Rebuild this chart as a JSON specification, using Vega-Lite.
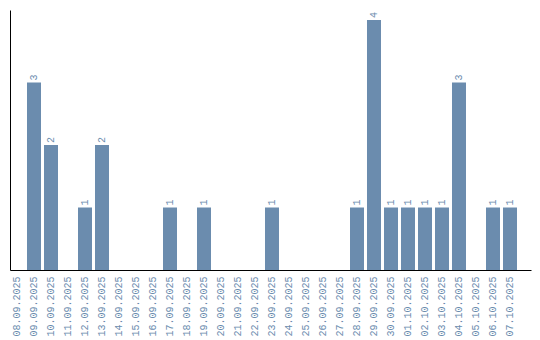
{
  "$schema": "https://vega.github.io/schema/vega-lite/v6.json",
  "autosize": "none",
  "width": 521,
  "height": 260,
  "padding": {"left": 10, "top": 10, "right": 9, "bottom": 70},
  "background": "white",
  "config": {"view": {"stroke": null}},
  "data": {"values": [
    {"date": "08.09.2025", "count": 0},
    {"date": "09.09.2025", "count": 3},
    {"date": "10.09.2025", "count": 2},
    {"date": "11.09.2025", "count": 0},
    {"date": "12.09.2025", "count": 1},
    {"date": "13.09.2025", "count": 2},
    {"date": "14.09.2025", "count": 0},
    {"date": "15.09.2025", "count": 0},
    {"date": "16.09.2025", "count": 0},
    {"date": "17.09.2025", "count": 1},
    {"date": "18.09.2025", "count": 0},
    {"date": "19.09.2025", "count": 1},
    {"date": "20.09.2025", "count": 0},
    {"date": "21.09.2025", "count": 0},
    {"date": "22.09.2025", "count": 0},
    {"date": "23.09.2025", "count": 1},
    {"date": "24.09.2025", "count": 0},
    {"date": "25.09.2025", "count": 0},
    {"date": "26.09.2025", "count": 0},
    {"date": "27.09.2025", "count": 0},
    {"date": "28.09.2025", "count": 1},
    {"date": "29.09.2025", "count": 4},
    {"date": "30.09.2025", "count": 1},
    {"date": "01.10.2025", "count": 1},
    {"date": "02.10.2025", "count": 1},
    {"date": "03.10.2025", "count": 1},
    {"date": "04.10.2025", "count": 3},
    {"date": "05.10.2025", "count": 0},
    {"date": "06.10.2025", "count": 1},
    {"date": "07.10.2025", "count": 1}
  ]},
  "encoding": {
    "x": {
      "field": "date", "type": "ordinal", "sort": null,
      "scale": {"paddingInner": 0.1765, "paddingOuter": 0.412, "align": 0},
      "axis": {
        "title": null, "ticks": false, "labelAngle": 270, "labelPadding": 6,
        "labelFont": "Liberation Mono", "labelFontSize": 10, "labelColor": "#6b8cae",
        "domainColor": "black", "domainWidth": 1, "grid": false
      }
    },
    "y": {
      "field": "count", "type": "quantitative",
      "scale": {"domain": [0, 4.16], "nice": false},
      "axis": {"title": null, "labels": false, "ticks": false, "grid": false, "domainColor": "black", "domainWidth": 1}
    }
  },
  "layer": [
    {"mark": {"type": "bar", "color": "#6b8cae"}},
    {
      "transform": [{"filter": "datum.count > 0"}],
      "mark": {"type": "text", "angle": 270, "align": "left", "baseline": "middle", "dx": 2, "font": "Liberation Mono", "fontSize": 10, "color": "#6b8cae"},
      "encoding": {"text": {"field": "count", "type": "quantitative"}}
    }
  ]
}
